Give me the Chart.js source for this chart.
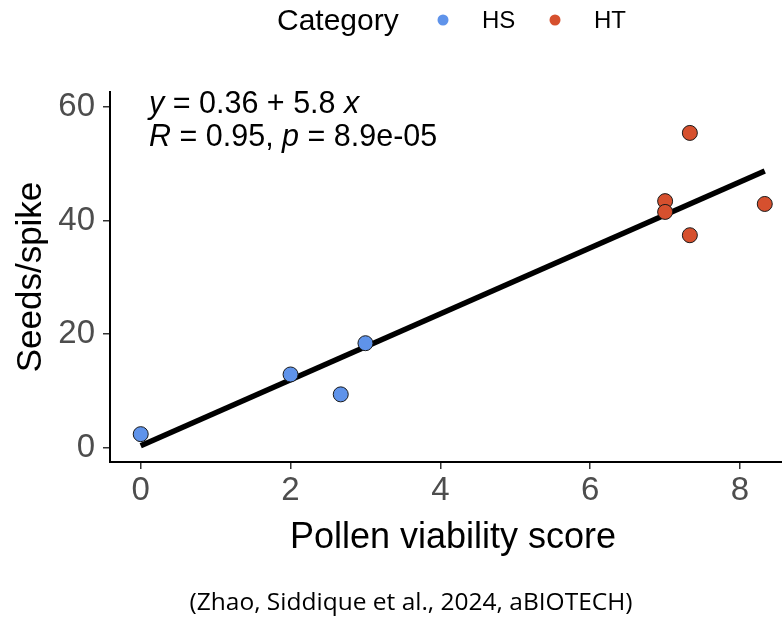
<!DOCTYPE html>
<html>
<head>
<meta charset="utf-8">
<script src="https://cdn.jsdelivr.net/npm/chart.js@4.4.1/dist/chart.umd.min.js"></script>
<style>
html,body{margin:0;padding:0;background:#fff;}
#wrap{position:relative;width:782px;height:619px;}
</style>
</head>
<body>
<div id="wrap"><canvas id="c" width="782" height="619"></canvas></div>
<script>
// Data
const hsX = [0, 2.0, 2.67, 3.0];
const hsY = [2.4, 12.9, 9.4, 18.4];
const htX = [7.0, 7.0, 7.33, 7.33, 8.33];
const htY = [43.4, 41.5, 55.4, 37.4, 42.9];
const fitX = [0, 8.33];
const fitY = [0.36, 48.7];
const xTicks = [0, 2, 4, 6, 8];
const yTicks = [0, 20, 40, 60];
const categories = ['HS', 'HT'];
const catColors = ['#5F93EA', '#D6502E'];
const xTitle = 'Pollen viability score';
const yTitle = 'Seeds/spike';
const annotation1 = [['y', true], [' = 0.36 + 5.8 ', false], ['x', true]];
const annotation2 = [['R', true], [' = 0.95, ', false], ['p', true], [' = 8.9e-05', false]];
const caption = '(Zhao, Siddique et al., 2024, aBIOTECH)';

const FONT = '"Liberation Sans", Arial, sans-serif';

function pts(xs, ys){ return xs.map((x,i)=>({x:x, y:ys[i]})); }

const extras = {
  id: 'extras',
  afterDraw(chart){
    const ctx = chart.ctx;
    ctx.save();
    // legend
    ctx.fillStyle = '#000';
    ctx.textBaseline = 'middle';
    ctx.textAlign = 'left';
    ctx.font = '30px ' + FONT;
    ctx.fillText('Category', 277, 22);
    ctx.font = '24px ' + FONT;
    const legX = [443, 555];
    categories.forEach((c,i)=>{
      ctx.beginPath();
      ctx.arc(legX[i], 20, 5.5, 0, Math.PI*2);
      ctx.fillStyle = catColors[i];
      ctx.fill();
      ctx.fillStyle = '#000';
      ctx.fillText(c, legX[i] + 39, 21);
    });
    // annotation
    const drawRich = (segs, x, y) => {
      let cx = x;
      segs.forEach(([t, it])=>{
        ctx.font = (it ? 'italic ' : '') + '30.5px ' + FONT;
        ctx.fillText(t, cx, y);
        cx += ctx.measureText(t).width;
      });
    };
    ctx.fillStyle = '#000';
    drawRich(annotation1, 149, 105);
    drawRich(annotation2, 149, 138);
    // x axis title
    ctx.textAlign = 'center';
    ctx.font = '36px ' + FONT;
    ctx.fillText(xTitle, 453, 538);
    // caption
    ctx.font = '24.5px "Open Sans", sans-serif';
    ctx.fillText(caption, 411, 603);
    ctx.restore();
  }
};

new Chart(document.getElementById('c'), {
  data: {
    datasets: [
      {
        type: 'line', label: 'fit', data: pts(fitX, fitY),
        borderColor: '#000', borderWidth: 5.5, pointRadius: 0, fill: false, order: 2
      },
      {
        type: 'scatter', label: categories[0], data: pts(hsX, hsY),
        backgroundColor: catColors[0], borderColor: '#1a1a1a', borderWidth: 1,
        pointRadius: 7.5, order: 1
      },
      {
        type: 'scatter', label: categories[1], data: pts(htX, htY),
        backgroundColor: catColors[1], borderColor: '#1a1a1a', borderWidth: 1,
        pointRadius: 7.5, order: 1
      }
    ]
  },
  options: {
    responsive: false,
    animation: false,
    layout: { autoPadding: false, padding: { left: 6, right: 0, top: 92, bottom: 54 } },
    plugins: { legend: { display: false }, tooltip: { enabled: false } },
    scales: {
      x: {
        type: 'linear', min: -0.41, max: 8.56,
        afterBuildTicks: s => { s.ticks = xTicks.map(v=>({value:v})); },
        afterFit: s => { s.height = 103; },
        grid: { drawOnChartArea: false, drawTicks: true, tickLength: 7, color: '#333', lineWidth: 1.5 },
        border: { display: true, color: '#000', width: 2 },
        ticks: { color: '#4d4d4d', font: { family: FONT, size: 33 }, padding: 2, callback: v => String(v) },
        title: { display: false }
      },
      y: {
        type: 'linear', min: -2.5, max: 62.6,
        afterBuildTicks: s => { s.ticks = yTicks.map(v=>({value:v})); },
        afterFit: s => { s.width = 104; },
        grid: { drawOnChartArea: false, drawTicks: true, tickLength: 7, color: '#333', lineWidth: 1.5 },
        border: { display: true, color: '#000', width: 2 },
        ticks: { color: '#4d4d4d', font: { family: FONT, size: 33 }, padding: 8, callback: v => String(v) },
        title: { display: true, text: yTitle, color: '#000', font: { family: FONT, size: 35 }, padding: { top: 4, bottom: 0 } }
      }
    }
  },
  plugins: [extras]
});
</script>
</body>
</html>
